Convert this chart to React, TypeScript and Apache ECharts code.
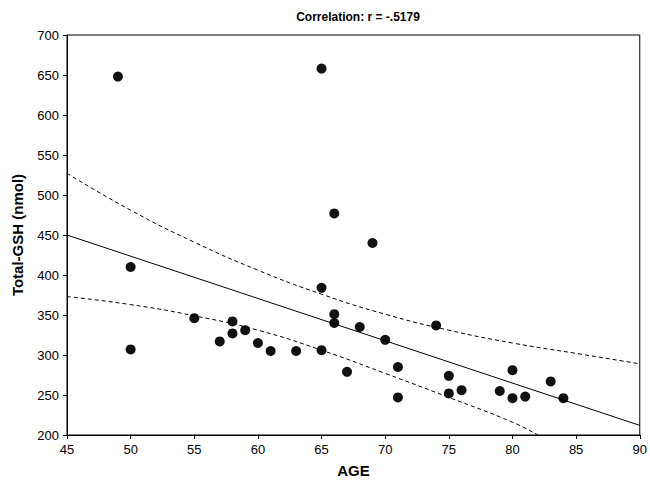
import React, { useEffect, useRef } from "react";
import * as echarts from "echarts";

const points: [number, number][] = [
  [49, 648], [50, 410], [50, 307], [55, 346], [57, 317], [58, 342], [58, 327],
  [59, 331], [60, 315], [61, 305], [63, 305], [65, 658], [65, 384], [65, 306],
  [66, 477], [66, 351], [66, 340], [67, 279], [68, 335], [69, 440], [70, 319],
  [71, 285], [71, 247], [74, 337], [75, 274], [75, 252], [76, 256], [79, 255],
  [80, 281], [80, 246], [81, 248], [83, 267], [84, 246],
];
const fitLine: [number, number][] = [[45, 450], [90, 212]];
const upperBand: [number, number][] = [
  [45, 527], [50, 481], [55, 441], [60, 406], [65, 376], [70, 351], [75, 331], [80, 315], [85, 302], [90, 289],
];
const lowerBand: [number, number][] = [
  [45, 373], [50, 363], [55, 349], [60, 331], [65, 306], [70, 277], [75, 247], [80, 216], [82, 200],
];

const App: React.FC = () => {
  const ref = useRef<HTMLDivElement>(null);
  useEffect(() => {
    if (!ref.current) return;
    const chart = echarts.init(ref.current, undefined, { renderer: "svg" });
    const axisCommon = {
      axisLine: { show: true, lineStyle: { color: "#000" } },
      axisTick: { show: true, inside: false, length: 4, lineStyle: { color: "#000" } },
      axisLabel: { color: "#000", fontSize: 13, fontFamily: "Liberation Sans" },
      splitLine: { show: false },
      nameLocation: "middle" as const,
      nameTextStyle: { color: "#000", fontSize: 15, fontWeight: "bold" as const, fontFamily: "Liberation Sans" },
    };
    chart.setOption({
      animation: false,
      title: {
        text: "Correlation: r = -.5179",
        left: 353, top: 6, textAlign: "center",
        textStyle: { fontSize: 12, fontWeight: "bold", color: "#000", fontFamily: "Liberation Sans" },
      },
      grid: { left: 67, right: 10, top: 35, bottom: 46, show: true, borderColor: "#000", borderWidth: 1 },
      xAxis: { ...axisCommon, type: "value", min: 45, max: 90, interval: 5, name: "AGE", nameGap: 28 },
      yAxis: { ...axisCommon, type: "value", min: 200, max: 700, interval: 50, name: "Total-GSH (nmol)", nameGap: 42 },
      series: [
        { type: "line", data: upperBand, smooth: true, symbol: "none", lineStyle: { color: "#000", width: 1, type: [4, 3] } },
        { type: "line", data: lowerBand, smooth: true, symbol: "none", lineStyle: { color: "#000", width: 1, type: [4, 3] } },
        { type: "line", data: fitLine, symbol: "none", lineStyle: { color: "#000", width: 1 } },
        { type: "scatter", data: points, symbolSize: 10, itemStyle: { color: "#111", opacity: 1 } },
      ],
    });
    return () => chart.dispose();
  }, []);
  return <div ref={ref} style={{ width: 650, height: 483, position: "absolute", left: 0, top: 0, background: "#fff" }} />;
};

export default App;
